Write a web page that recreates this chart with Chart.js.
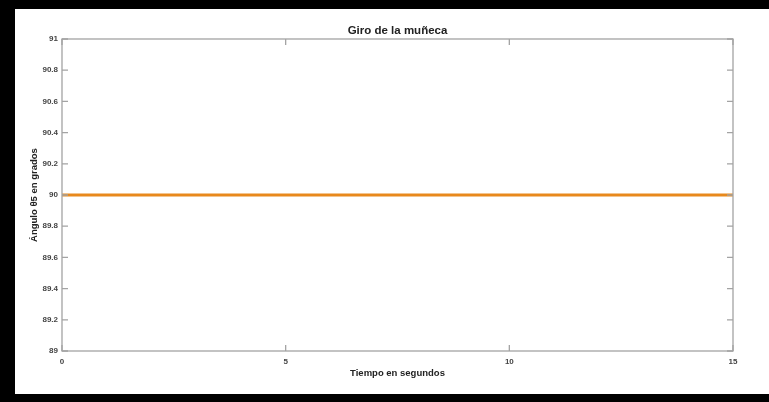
<!DOCTYPE html>
<html>
<head>
<meta charset="utf-8">
<script src="https://cdn.jsdelivr.net/npm/chart.js@4"></script>
<style>
  html, body { margin: 0; padding: 0; background: #fff; }
  #wrap { width: 769px; height: 402px; position: relative; }
</style>
</head>
<body>
<div id="wrap"><canvas id="giro" width="769" height="402"></canvas></div>
<script>
// data
const tiempo = [0, 15];          // s
const angulo = [90, 90];         // grados
const xTicks = [0, 5, 10, 15];
const yTicks = [89, 89.2, 89.4, 89.6, 89.8, 90, 90.2, 90.4, 90.6, 90.8, 91];
const titulo = 'Giro de la muñeca';

const FONT = "'Liberation Sans', Arial, sans-serif";
const boxColor = '#a3a3a3';

// black frame around the screenshot, axes box with inward ticks, and the
// title centred over the axes (like matlab does)
const frame = {
    id: 'frame',
    beforeDraw(chart) {
        const c = chart.ctx;
        c.save();
        c.fillStyle = '#fff';
        c.fillRect(0, 0, chart.width, chart.height);
        c.fillStyle = '#000';
        c.fillRect(0, 0, chart.width, 9);
        c.fillRect(0, 0, 15, chart.height);
        c.fillRect(0, chart.height - 8, chart.width, 8);
        c.restore();
    },
    afterDraw(chart) {
        const {ctx: c, chartArea: a, scales} = chart;
        c.save();
        c.strokeStyle = boxColor;
        c.lineWidth = 1.3;
        c.strokeRect(a.left, a.top, a.right - a.left, a.bottom - a.top);
        c.beginPath();
        yTicks.forEach(v => {
            const y = scales.y.getPixelForValue(v);
            c.moveTo(a.left, y); c.lineTo(a.left + 6, y);
            c.moveTo(a.right, y); c.lineTo(a.right - 6, y);
        });
        xTicks.forEach(v => {
            const x = scales.x.getPixelForValue(v);
            c.moveTo(x, a.bottom); c.lineTo(x, a.bottom - 6);
            c.moveTo(x, a.top); c.lineTo(x, a.top + 6);
        });
        c.stroke();

        c.fillStyle = '#222';
        c.font = 'bold 11.5px ' + FONT;
        c.textAlign = 'center';
        c.textBaseline = 'middle';
        c.fillText(titulo, (a.left + a.right) / 2, a.top - 8);
        c.restore();
    }
};

new Chart(document.getElementById('giro'), {
    type: 'line',
    data: {
        datasets: [{
            data: tiempo.map((t, i) => ({x: t, y: angulo[i]})),
            borderColor: '#e8891c',
            borderWidth: 3,
            pointRadius: 0,
            fill: false
        }]
    },
    options: {
        responsive: false,
        animation: false,
        layout: { padding: { left: 15, top: 39, right: 36, bottom: 8 } },
        plugins: {
            legend: { display: false },
            tooltip: { enabled: false },
            title: { display: false }
        },
        scales: {
            x: {
                type: 'linear',
                min: 0, max: 15,
                afterBuildTicks: s => { s.ticks = xTicks.map(v => ({value: v})); },
                afterFit: s => { s.height = 43; },
                grid: { display: false, drawTicks: false },
                border: { display: false },
                ticks: { color: '#444', padding: 6, maxRotation: 0,
                         font: { family: FONT, size: 8, weight: 'bold' } },
                title: { display: true, text: 'Tiempo en segundos', color: '#222',
                         font: { family: FONT, size: 9.5, weight: 'bold' },
                         padding: { top: 0, bottom: 15 } }
            },
            y: {
                min: 89, max: 91,
                afterBuildTicks: s => { s.ticks = yTicks.map(v => ({value: v})); },
                afterFit: s => { s.width = 47; },
                grid: { display: false, drawTicks: false },
                border: { display: false },
                ticks: { color: '#444', padding: 4,
                         callback: v => String(Math.round(v * 10) / 10),
                         font: { family: FONT, size: 8, weight: 'bold' } },
                title: { display: true, text: 'Ángulo θ5 en grados', color: '#222',
                         font: { family: FONT, size: 9.5, weight: 'bold' },
                         padding: { top: 14, bottom: 0 } }
            }
        }
    },
    plugins: [frame]
});
</script>
</body>
</html>
